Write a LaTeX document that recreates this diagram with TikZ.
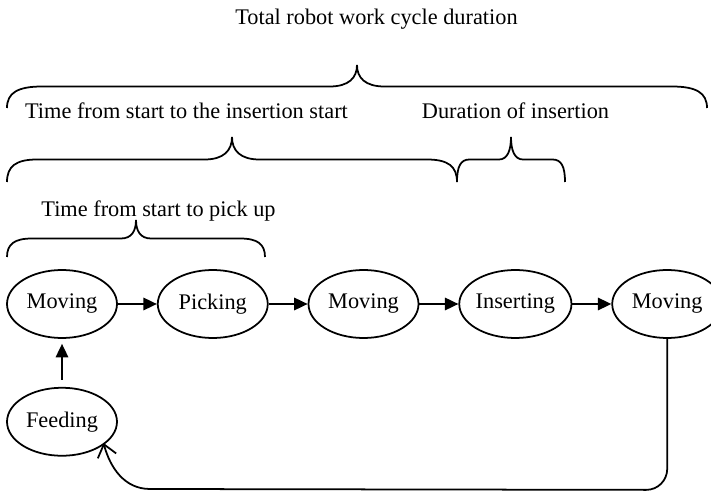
\documentclass[tikz,border=0pt]{standalone}
\usepackage{fontspec}
\setmainfont{Liberation Serif}
\usetikzlibrary{positioning,shapes.geometric,arrows.meta}
\begin{document}
\begin{tikzpicture}[line width=1pt, every node/.style={font=\fontsize{12.7}{15}\selectfont},
  state/.style={ellipse, draw, minimum width=2.2cm, minimum height=1.36cm, inner sep=0pt},
  next/.style={-{Triangle[length=0.27cm,width=0.25cm]}},
  node distance=0.78cm]

\useasboundingbox (0,0) rectangle (14.22,9.84);

\node(m1)[state] at (1.24,3.76){Moving};
\node(pick)[state, right=of m1]{Picking};
\node(m2)[state, right=of pick]{Moving};
\node(ins)[state, right=of m2]{Inserting};
\node(m3)[state, right=of ins]{Moving};
\node(feed)[state, below=0.96cm of m1]{Feeding};

\draw[next] (m1) -- (pick);
\draw[next] (pick) -- (m2);
\draw[next] (m2) -- (ins);
\draw[next] (ins) -- (m3);
\draw[next, shorten <=0.14cm, shorten >=0.1cm] (feed) -- (m1);
\coordinate(back) at ([shift={(0.04,0.07)}]feed.south east);
\draw[-{Straight Barb[length=0.24cm,width=0.38cm]}] (m3.south) -- ++(0,-2.6) to[out=-90,in=0] ++(-0.42,-0.42) -- (3,0.06) to[out=180,in=-75] (back);

\foreach \a/\b/\y/\h/\e/\t in {0.14/14.14/7.68/0.86/0.7/0.55, 0.14/9.14/6.2/0.9/0.6/0.55, 9.14/11.3/6.2/0.9/0.25/0.24, 0.14/5.3/4.7/0.74/0.5/0.3}{
  \pgfmathsetmacro\m{(\a+\b)/2}
  \draw (\a,\y) .. controls (\a,{\y+0.35*\h}) and ({\a+0.3*\e},{\y+\h/2}) .. ({\a+\e},{\y+\h/2}) -- ({\m-\t},{\y+\h/2})
    .. controls ({\m-0.3*\t},{\y+\h/2}) and (\m,{\y+0.7*\h}) .. (\m,{\y+\h})
    .. controls (\m,{\y+0.7*\h}) and ({\m+0.3*\t},{\y+\h/2}) .. ({\m+\t},{\y+\h/2}) -- ({\b-\e},{\y+\h/2})
    .. controls ({\b-0.3*\e},{\y+\h/2}) and (\b,{\y+0.35*\h}) .. (\b,\y);
}

\node(total)[anchor=base] at (7.53,9.34){Total robot work cycle duration};
\node(toins)[anchor=base] at (3.73,7.46){Time from start to the insertion start};
\node(dur)[anchor=base] at (10.31,7.46){Duration of insertion};
\node(topick)[anchor=base] at (3.17,5.5){Time from start to pick up};

\end{tikzpicture}
\end{document}
